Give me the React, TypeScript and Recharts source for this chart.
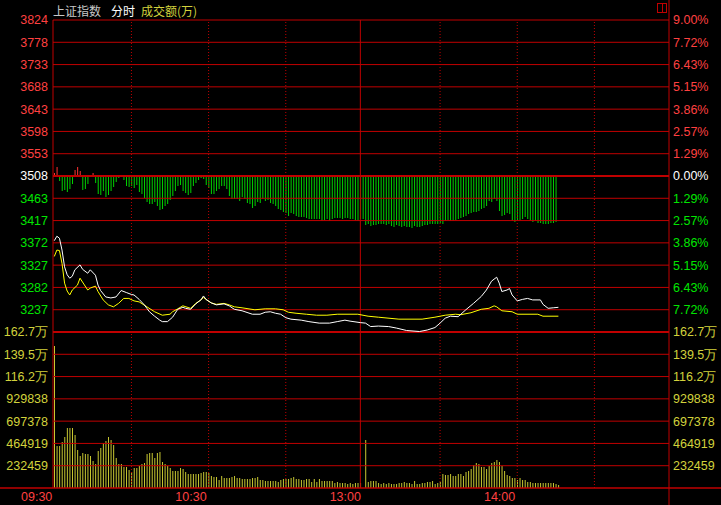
import React from 'react';
import { ComposedChart, Bar, Line, XAxis, YAxis, ReferenceLine, Cell } from 'recharts';

const PREV_CLOSE = 3508;
const PRICE_TOP = 3824;

const priceTickLabels = ['3824', '3778', '3733', '3688', '3643', '3598', '3553', '3508', '3463', '3417', '3372', '3327', '3282', '3237'];
const pctTickLabels = ['9.00%', '7.72%', '6.43%', '5.15%', '3.86%', '2.57%', '1.29%', '0.00%', '1.29%', '2.57%', '3.86%', '5.15%', '6.43%', '7.72%'];
const volTickValues = [1627213, 1394754, 1162295, 929838, 697378, 464919, 232459];
const volTickLabels = ['162.7万', '139.5万', '116.2万', '929838', '697378', '464919', '232459'];
const timeTickMinutes = [0, 60, 120, 180];
const timeTickLabels = ['09:30', '10:30', '13:00', '14:00'];
const halfHourMinutes = [30, 60, 90, 150, 180, 210];
const middayMinute = 119;
const sessionStart = -0.5;
const sessionEnd = 239;

// red/green strength bars (per minute)
const strength = [
  3, 9, -5, -15, -14, -16, -13, -8, 6, 9,
  5, -14, -13, -8, 0, 3, -7, -18, -19, -15,
  -21, -19, -15, -11, -6, -2, 1, -4, -10, -11,
  -10, -12, -9, -16, -18, -22, -26, -28, -28, -26,
  -30, -34, -33, -30, -28, -24, -20, -15, -10, -9,
  -15, -17, -19, -17, -10, -7, -4, -2, -3, -9,
  -12, -18, -18, -15, -13, -10, -10, -13, -20, -23,
  -23, -23, -25, -21, -23, -27, -28, -32, -30, -26,
  -27, -23, -25, -24, -27, -28, -30, -33, -34, -36,
  -37, -40, -37, -38, -40, -41, -41, -41, -42, -43,
  -43, -43, -43, -43, -45, -44, -43, -45, -43, -42,
  -42, -42, -43, -42, -42, -43, -43, -44, -45, -43,
  -43, -49, -48, -50, -49, -49, -48, -48, -48, -49,
  -48, -50, -51, -49, -50, -51, -50, -51, -51, -52,
  -50, -51, -51, -50, -49, -49, -48, -48, -48, -48,
  -47, -48, -45, -44, -45, -45, -44, -43, -42, -41,
  -40, -38, -37, -36, -36, -35, -33, -32, -30, -25,
  -26, -23, -25, -35, -40, -39, -37, -38, -45, -46,
  -44, -44, -43, -41, -43, -45, -46, -45, -47, -47,
  -48, -48, -48, -47, -47, -46,
];

// turnover per minute
const volume = [
  1480200, 437800, 437800, 479500, 531600, 625400, 625400, 625400, 552500, 396100,
  333600, 364800, 354400, 354400, 333600, 281400, 250200, 385700, 417000, 469100,
  489900, 531600, 500400, 448200, 312700, 250200, 250200, 218900, 218900, 187600,
  166800, 208500, 208500, 229300, 250200, 260600, 354400, 364800, 364800, 312700,
  364800, 375300, 271000, 250200, 229300, 208500, 177200, 177200, 177200, 208500,
  198100, 166800, 145900, 145900, 145900, 145900, 145900, 156400, 166800, 166800,
  156400, 125100, 114700, 114700, 83400, 125100, 104200, 104200, 104200, 114700,
  125100, 104200, 104200, 93800, 93800, 93800, 93800, 104200, 104200, 114700,
  83400, 83400, 73000, 73000, 73000, 73000, 73000, 62500, 83400, 93800,
  93800, 93800, 104200, 114700, 93800, 93800, 83400, 83400, 93800, 93800,
  62500, 93800, 62500, 93800, 73000, 73000, 73000, 73000, 73000, 52100,
  62500, 52100, 52100, 52100, 41700, 52100, 41700, 52100, 52100, 52100,
  0, 500400, 62500, 73000, 73000, 73000, 52100, 41700, 52100, 41700,
  52100, 41700, 41700, 41700, 52100, 52100, 62500, 52100, 52100, 41700,
  73000, 41700, 41700, 52100, 52100, 62500, 62500, 73000, 41700, 52100,
  62500, 145900, 135500, 135500, 145900, 125100, 125100, 145900, 145900, 125100,
  166800, 177200, 198100, 239800, 260600, 250200, 218900, 218900, 198100, 229300,
  260600, 271000, 291900, 271000, 229300, 177200, 135500, 125100, 104200, 104200,
  83400, 104200, 83400, 83400, 62500, 62500, 52100, 52100, 52100, 52100,
  52100, 52100, 52100, 52100, 52100, 41700, 31300,
];

// index price (white) [minute, price]
const whitePts: [number, number][] = [
  [0, 3377], [1, 3386], [2, 3382], [3, 3358], [4, 3324], [5, 3308], [6, 3301], [7, 3305], [8, 3318], [10, 3328],
  [11, 3319], [13, 3311], [14, 3318], [16, 3307], [17, 3287], [18, 3276], [20, 3263], [22, 3261], [24, 3263], [26, 3276],
  [28, 3272], [30, 3268], [31, 3267], [33, 3258], [35, 3247], [36, 3240], [37, 3233], [39, 3224], [41, 3216], [42, 3213],
  [44, 3213], [46, 3222], [48, 3238], [50, 3242], [51, 3240], [53, 3238], [55, 3249], [57, 3257], [58, 3265], [59, 3258],
  [61, 3251], [63, 3247], [66, 3249], [68, 3245], [70, 3238], [73, 3235], [77, 3228], [80, 3228], [82, 3232], [84, 3233],
  [86, 3230], [88, 3228], [90, 3221], [92, 3218], [96, 3216], [99, 3213], [103, 3210], [107, 3210], [110, 3213], [113, 3216],
  [115, 3214], [119, 3211], [121, 3210], [123, 3203], [126, 3204], [130, 3203], [133, 3200], [137, 3195], [142, 3193], [145, 3196],
  [148, 3201], [150, 3210], [152, 3220], [154, 3224], [157, 3223], [160, 3237], [163, 3250], [166, 3264], [168, 3277], [170, 3295],
  [172, 3303], [173, 3291], [174, 3274], [176, 3277], [177, 3280], [178, 3267], [180, 3255], [182, 3258], [184, 3260], [186, 3257],
  [189, 3257], [190, 3248], [192, 3240], [194, 3241], [196, 3242],
];

// leading line (yellow) [minute, price]
const yellowPts: [number, number][] = [
  [0, 3345], [1, 3358], [2, 3357], [3, 3331], [4, 3291], [5, 3275], [6, 3267], [7, 3277], [9, 3287], [10, 3301],
  [13, 3277], [14, 3281], [16, 3285], [17, 3274], [19, 3257], [21, 3247], [23, 3243], [25, 3250], [27, 3260], [29, 3260],
  [31, 3255], [33, 3253], [36, 3243], [39, 3233], [42, 3226], [45, 3228], [46, 3233], [48, 3239], [50, 3245], [53, 3240],
  [55, 3250], [57, 3257], [58, 3262], [59, 3258], [61, 3251], [63, 3248], [66, 3250], [68, 3247], [70, 3243], [73, 3241],
  [78, 3237], [82, 3239], [86, 3239], [89, 3237], [91, 3232], [94, 3230], [98, 3228], [102, 3226], [106, 3226], [110, 3228],
  [118, 3228], [122, 3224], [126, 3222], [134, 3218], [143, 3218], [148, 3222], [152, 3226], [156, 3228], [158, 3227], [162, 3231],
  [166, 3238], [169, 3240], [171, 3245], [172, 3243], [174, 3235], [178, 3233], [180, 3228], [188, 3228], [190, 3224], [196, 3224],
];

const C = {
  bg: '#000000',
  grid: '#c00000',
  red: '#ff4040',
  green: '#00e600',
  white: '#ffffff',
  yellowText: '#d2d23c',
  barRed: '#ff3232',
  barGreen: '#00d200',
  vol: '#c8c832',
  lineWhite: '#ffffff',
  lineYellow: '#ffff00',
};

const AXIS_FONT = '"Liberation Sans", Arial, sans-serif';
const AXIS_SIZE = 12.5;

const PRICE_STEP = (PRICE_TOP - PREV_CLOSE) / 7;
const priceTickValues = priceTickLabels.map((_, k) => PRICE_TOP - k * PRICE_STEP);
const priceDomain = [PREV_CLOSE - 14 * PRICE_STEP, PRICE_TOP];
const volDomain = [0, volTickValues[0] * 3];
const strengthDomain = [-312, 156];

const N = Math.max(strength.length, volume.length, whitePts[whitePts.length - 1][0] + 1);
const rows: any[] = [];
for (let i = 0; i < N; i++) {
  rows.push({ t: i, s: i < strength.length ? strength[i] : null, v: i < volume.length ? volume[i] : null, w: null, y: null });
}
whitePts.forEach(([t, p]) => { rows[t].w = p; });
yellowPts.forEach(([t, p]) => { rows[t].y = p; });

const colorFor = (k: number) => (k < 7 ? C.red : k === 7 ? C.white : C.green);

const TimeTick = (props: any) => {
  const { x, y, payload } = props;
  const idx = timeTickMinutes.indexOf(payload.value);
  if (idx < 0) return null;
  return (
    <text x={x - 2} y={y + 12.5} textAnchor="end" fill={C.red} fontSize={AXIS_SIZE} fontFamily={AXIS_FONT}>
      {timeTickLabels[idx]}
    </text>
  );
};

export default function App() {
  return (
    <div style={{ position: 'fixed', left: 0, top: 0, width: 721, height: 505, background: C.bg, overflow: 'hidden' }}>
      <div
        style={{
          position: 'absolute', left: 53, top: 3, fontSize: 12, lineHeight: '15px', whiteSpace: 'nowrap',
          fontFamily: '"Noto Sans CJK SC", "Noto Sans", sans-serif',
        }}
      >
        <span style={{ color: '#c8c8c8' }}>上证指数</span>
        <span style={{ color: '#ffffff', marginLeft: 10 }}>分时</span>
        <span style={{ color: C.yellowText, marginLeft: 6 }}>成交额(万)</span>
      </div>
      <svg style={{ position: 'absolute', left: 657, top: 3 }} width={10} height={10}>
        <rect x={0.5} y={0.5} width={9} height={9} fill="none" stroke={C.grid} strokeWidth={1} />
        <line x1={5.5} y1={0.5} x2={5.5} y2={9.5} stroke={C.grid} strokeWidth={1} />
      </svg>
      <ComposedChart
        width={721}
        height={505}
        data={rows}
        margin={{ top: 20, right: 52, left: 53, bottom: 0 }}
        style={{ position: 'absolute', left: 0, top: 0 }}
      >
        <XAxis
          xAxisId="t"
          type="number"
          dataKey="t"
          domain={[sessionStart, sessionEnd]}
          allowDataOverflow
          ticks={timeTickMinutes}
          interval={0}
          tick={<TimeTick />}
          tickLine={false}
          axisLine={false}
          tickSize={0}
          tickMargin={0}
          height={17}
        />
        <XAxis xAxisId="t2" type="number" dataKey="t" domain={[sessionStart, sessionEnd]} allowDataOverflow hide />
        <YAxis yAxisId="price" type="number" domain={priceDomain} allowDataOverflow hide />
        <YAxis yAxisId="str" type="number" domain={strengthDomain} allowDataOverflow hide />
        <YAxis yAxisId="vol" type="number" domain={volDomain} allowDataOverflow hide />

        {priceTickValues.map((v, k) => (
          <ReferenceLine
            key={'pl' + k}
            xAxisId="t"
            yAxisId="price"
            y={v}
            stroke={C.grid}
            strokeWidth={k === 7 ? 2 : 1}
            label={{ value: priceTickLabels[k], position: 'left', offset: 5, fill: colorFor(k), fontSize: AXIS_SIZE, fontFamily: AXIS_FONT }}
          />
        ))}
        {priceTickValues.map((v, k) => (
          <ReferenceLine
            key={'pr' + k}
            xAxisId="t"
            yAxisId="price"
            y={v}
            stroke="none"
            label={{ value: pctTickLabels[k], position: 'right', offset: 4, fill: colorFor(k), fontSize: AXIS_SIZE, fontFamily: AXIS_FONT }}
          />
        ))}
        {volTickValues.map((v, k) => (
          <ReferenceLine
            key={'vl' + k}
            xAxisId="t"
            yAxisId="vol"
            y={v}
            stroke={C.grid}
            strokeWidth={k === 0 ? 2 : 1}
            label={{ value: volTickLabels[k], position: 'left', offset: 5, fill: C.yellowText, fontSize: AXIS_SIZE, fontFamily: AXIS_FONT }}
          />
        ))}
        {volTickValues.map((v, k) => (
          <ReferenceLine
            key={'vr' + k}
            xAxisId="t"
            yAxisId="vol"
            y={v}
            stroke="none"
            label={{ value: volTickLabels[k], position: 'right', offset: 4, fill: C.yellowText, fontSize: AXIS_SIZE, fontFamily: AXIS_FONT }}
          />
        ))}
        {halfHourMinutes.map((m) => (
          <ReferenceLine key={'hh' + m} xAxisId="t" yAxisId="price" x={m} stroke={C.grid} strokeDasharray="1 2" />
        ))}
        <ReferenceLine xAxisId="t" yAxisId="price" x={middayMinute} stroke={C.grid} />
        <ReferenceLine xAxisId="t" yAxisId="price" x={sessionStart} stroke={C.grid} />
        <ReferenceLine
          xAxisId="t"
          yAxisId="price"
          ifOverflow="visible"
          segment={[{ x: sessionEnd, y: 3880 }, { x: sessionEnd, y: 2820 }]}
          stroke={C.grid}
        />
        <ReferenceLine
          xAxisId="t"
          yAxisId="vol"
          ifOverflow="visible"
          segment={[{ x: -30, y: 0 }, { x: 270, y: 0 }]}
          stroke={C.grid}
          strokeWidth={1.5}
        />

        <Bar xAxisId="t" yAxisId="str" dataKey="s" barSize={1} isAnimationActive={false}>
          {rows.map((r, i) => (
            <Cell key={'c' + i} fill={r.s !== null && r.s >= 0 ? C.barRed : C.barGreen} />
          ))}
        </Bar>
        <Bar xAxisId="t2" yAxisId="vol" dataKey="v" barSize={1} fill={C.vol} isAnimationActive={false} />
        <Line xAxisId="t" yAxisId="price" dataKey="y" type="linear" stroke={C.lineYellow} strokeWidth={1} dot={false} connectNulls isAnimationActive={false} />
        <Line xAxisId="t" yAxisId="price" dataKey="w" type="linear" stroke={C.lineWhite} strokeWidth={1} dot={false} connectNulls isAnimationActive={false} />
      </ComposedChart>
    </div>
  );
}
